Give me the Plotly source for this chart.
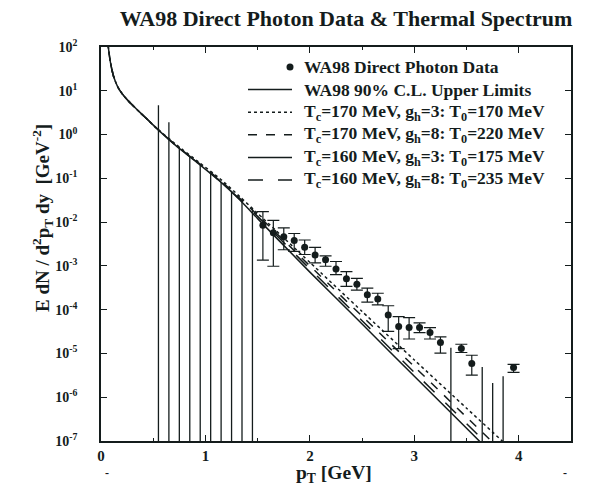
import plotly.graph_objects as go

# ---- thermal photon spectra, four scenarios (E dN/d^2pT dy vs pT) ----
pt_curve = [0.06, 0.07, 0.09, 0.12, 0.16, 0.20, 0.26, 0.37, 0.45, 0.52,
            0.72, 0.93, 1.14, 1.33, 1.50, 2.00, 2.50, 3.00, 3.50, 4.00]
low_pt_common = [200, 100, 45.0, 21.5, 12.3, 8.7, 5.9, 3.25, 2.15, 1.48]
tc170_gh3 = low_pt_common + [0.59, 0.24, 0.098, 0.038, 0.0158, 1.2e-3, 9.1e-5, 7.1e-6, 5.6e-7, 4.5e-8]
tc170_gh8 = low_pt_common + [0.56, 0.229, 0.091, 0.0347, 0.0145, 1.0e-3, 7.1e-5, 5.0e-6, 3.5e-7, 2.5e-8]
tc160_gh3 = low_pt_common + [0.55, 0.22, 0.085, 0.032, 0.012, 7.2e-4, 4.7e-5, 3.0e-6, 1.95e-7, 1.26e-8]
tc160_gh8 = low_pt_common + [0.56, 0.224, 0.087, 0.033, 0.0135, 8.5e-4, 5.6e-5, 3.7e-6, 2.5e-7, 1.66e-8]

# ---- WA98 direct photon data points with asymmetric errors ----
pt_data = [1.55, 1.65, 1.75, 1.85, 1.95, 2.05, 2.15, 2.25, 2.35, 2.45, 2.55,
           2.65, 2.75, 2.85, 2.95, 3.05, 3.15, 3.25, 3.45, 3.55, 3.95]
yield_data = [8.5e-3, 5.7e-3, 4.6e-3, 3.8e-3, 2.66e-3, 1.78e-3, 1.38e-3, 8.5e-4,
              5.1e-4, 3.8e-4, 2.2e-4, 1.76e-4, 7.6e-5, 4.1e-5, 3.9e-5, 3.9e-5,
              3.0e-5, 1.78e-5, 1.29e-5, 5.9e-6, 4.8e-6]
yield_hi = [1.74e-2, 1.1e-2, 7.4e-3, 5.5e-3, 3.9e-3, 2.66e-3, 1.7e-3, 1.26e-3,
            7.4e-4, 5.2e-4, 3.1e-4, 2.37e-4, 1.23e-4, 6.9e-5, 6.6e-5, 5.0e-5,
            3.9e-5, 2.4e-5, 1.62e-5, 9.1e-6, 5.6e-6]
yield_lo = [1.35e-3, 9.8e-4, 2.34e-3, 2.14e-3, 1.82e-3, 1.17e-3, 9.8e-4, 6.3e-4,
            3.4e-4, 2.8e-4, 1.48e-4, 1.29e-4, 3.2e-5, 1.29e-5, 2.14e-5, 3.0e-5,
            2.14e-5, 1.02e-5, 1.05e-5, 3.2e-6, 3.7e-6]

# ---- 90% C.L. upper limits ----
pt_limit = [0.55, 0.65, 0.75, 0.85, 0.95, 1.05, 1.15, 1.25, 1.35, 1.45,
            3.35, 3.65, 3.75, 3.85]
limit_val = [4.7, 1.9, 0.52, 0.33, 0.21, 0.13, 0.083, 0.052, 0.033, 0.021,
             1.35e-5, 4.9e-6, 2.1e-6, 3.0e-6]

# axis ticks
x_ticks = [0, 1, 2, 3, 4]
y_exponents = [-7, -6, -5, -4, -3, -2, -1, 0, 1, 2]

# legend entries: (label, sample style)
legend_labels = [
    "WA98 Direct Photon Data",
    "WA98 90% C.L. Upper Limits",
    "T<sub>c</sub>=170 MeV, g<sub>h</sub>=3: T<sub>0</sub>=170 MeV",
    "T<sub>c</sub>=170 MeV, g<sub>h</sub>=8: T<sub>0</sub>=220 MeV",
    "T<sub>c</sub>=160 MeV, g<sub>h</sub>=3: T<sub>0</sub>=175 MeV",
    "T<sub>c</sub>=160 MeV, g<sub>h</sub>=8: T<sub>0</sub>=235 MeV",
]
legend_styles = ["marker", "solid", "dot", "dash", "solid", "longdash"]

INK = "#141c1c"
FONT = "Liberation Serif"
Y_FLOOR = 10.0 ** y_exponents[0]

# plot-area geometry in pixels (used to place the hand-built legend)
W, H = 589, 486
ML, MR, MT, MB = 101, 18, 47, 45
PW, PH = W - ML - MR, H - MT - MB


def px_x(px):
    return (px - ML) / PW


def px_y(py):
    return (H - MB - py) / PH


fig = go.Figure()

# data points
fig.add_trace(go.Scatter(
    x=pt_data, y=yield_data, mode="markers",
    marker=dict(symbol="circle", size=7, color=INK),
    error_y=dict(type="data", symmetric=False,
                 array=[h - v for h, v in zip(yield_hi, yield_data)],
                 arrayminus=[v - l for v, l in zip(yield_data, yield_lo)],
                 color=INK, thickness=1.2, width=6),
))

# upper limits drawn as vertical bars from the axis floor
lx, ly = [], []
for p, v in zip(pt_limit, limit_val):
    lx += [p, p, None]
    ly += [Y_FLOOR, v, None]
fig.add_trace(go.Scatter(
    x=lx, y=ly, mode="lines", line=dict(color=INK, width=1.3),
    connectgaps=False,
))

# thermal spectra
for vals, dash in [(tc170_gh3, "dot"), (tc170_gh8, "dash"),
                   (tc160_gh3, "solid"), (tc160_gh8, "longdash")]:
    fig.add_trace(go.Scatter(
        x=pt_curve, y=vals, mode="lines",
        line=dict(color=INK, width=1.5, dash=dash, shape="spline", smoothing=0.5),
    ))

# legend: samples on the left, bold labels on the right
shapes, annotations = [], []
row0, row_step = 67.0, 22.6
for i, (label, style) in enumerate(zip(legend_labels, legend_styles)):
    yc = px_y(row0 + i * row_step)
    if style == "marker":
        shapes.append(dict(type="circle", xref="paper", yref="paper",
                           xsizemode="pixel", ysizemode="pixel",
                           xanchor=px_x(290), yanchor=yc,
                           x0=-3.5, x1=3.5, y0=-3.5, y1=3.5,
                           fillcolor=INK, line=dict(width=0)))
    else:
        shapes.append(dict(type="line", xref="paper", yref="paper",
                           x0=px_x(248), x1=px_x(292), y0=yc, y1=yc,
                           line=dict(color=INK, width=1.5, dash=style)))
    annotations.append(dict(text=f"<b>{label}</b>", xref="paper", yref="paper",
                            x=px_x(302), y=yc, xanchor="left", yanchor="middle",
                            showarrow=False,
                            font=dict(size=17.5, family=FONT, color=INK)))

annotations += [
    dict(text="<b>E dN / d<sup>2</sup>p<sub>T</sub> dy  [GeV<sup>-2</sup>]</b>",
         xref="paper", yref="paper", x=px_x(42), y=px_y(218), textangle=-90,
         showarrow=False, xanchor="center", yanchor="middle",
         font=dict(size=19, family=FONT, color=INK)),
    dict(text="<b>p<sub>T</sub> [GeV]</b>",
         xref="paper", yref="paper", x=px_x(334), y=px_y(474),
         showarrow=False, xanchor="center", yanchor="middle",
         font=dict(size=19.5, family=FONT, color=INK)),
    dict(text="<b>-</b>", xref="paper", yref="paper", x=px_x(103), y=px_y(482),
         showarrow=False, font=dict(size=12, family=FONT, color=INK)),
    dict(text="<b>-</b>", xref="paper", yref="paper", x=px_x(569), y=px_y(482),
         showarrow=False, font=dict(size=12, family=FONT, color=INK)),
]

fig.update_layout(
    width=W, height=H,
    margin=dict(l=ML, r=MR, t=MT, b=MB),
    paper_bgcolor="white", plot_bgcolor="white",
    font=dict(family=FONT, color=INK),
    title=dict(text="<b>WA98 Direct Photon Data &amp; Thermal Spectrum</b>",
               x=px_x(346) * PW / W + ML / W, xanchor="center",
               y=1 - 18 / H, yanchor="middle",
               font=dict(size=22, family=FONT, color=INK)),
    showlegend=False,
    shapes=shapes,
    annotations=annotations,
    xaxis=dict(range=[0, 4.5], tickvals=x_ticks,
               ticktext=[f"<b>{t}</b>" for t in x_ticks],
               ticks="inside", ticklen=6, tickwidth=1.3, tickcolor=INK,
               minor=dict(dtick=0.5, tick0=0, ticks="inside", ticklen=3,
                          tickwidth=1, tickcolor=INK),
               showline=True, linecolor=INK, linewidth=1.5, mirror="ticks",
               showgrid=False, zeroline=False,
               tickfont=dict(size=15, family=FONT, color=INK)),
    yaxis=dict(type="log", range=[y_exponents[0], y_exponents[-1]],
               tickvals=[10.0 ** e for e in y_exponents],
               ticktext=[f"<b>10<sup>{e}</sup></b>" for e in y_exponents],
               ticks="inside", ticklen=6, tickwidth=1.3, tickcolor=INK,
               showline=True, linecolor=INK, linewidth=1.5, mirror="ticks",
               showgrid=False, zeroline=False, ticklabelstandoff=19,
               tickfont=dict(size=14, family=FONT, color=INK)),
)

fig.write_html("out.html")
